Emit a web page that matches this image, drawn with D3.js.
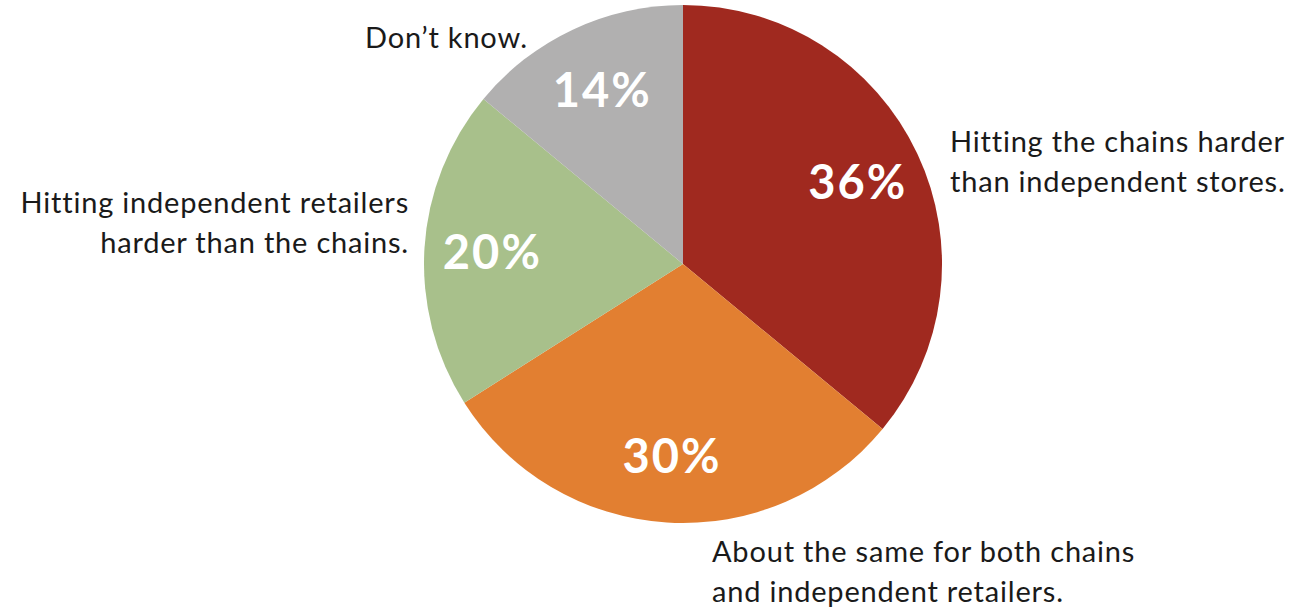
<!DOCTYPE html>
<html>
<head>
<meta charset="utf-8">
<script src="https://cdn.jsdelivr.net/npm/d3@7"></script>
<style>
  html, body { margin: 0; padding: 0; background: #ffffff; }
  svg { display: block; }
  .pct { font-family: Lato, "Open Sans", sans-serif; font-weight: 700; fill: #ffffff; letter-spacing: 2px; }
  .lbl { font-family: Lato, "Open Sans", sans-serif; font-weight: 400; fill: #1a1a1a; letter-spacing: 0.8px; }
</style>
</head>
<body>
<svg id="chart" width="1297" height="613"></svg>
<script>
// Survey responses, in drawing order (clockwise from 12 o'clock)
const categories = [
  "Hitting the chains harder than independent stores.",
  "About the same for both chains and independent retailers.",
  "Hitting independent retailers harder than the chains.",
  "Don’t know."
];
const values = [36, 30, 20, 14];
const colors = ["#a0291f", "#e27f31", "#a8c08b", "#b1b0b0"];

// Callout text, split into lines, with anchor side
const labelLines = [
  ["Hitting the chains harder", "than independent stores."],
  ["About the same for both chains", "and independent retailers."],
  ["Hitting independent retailers", "harder than the chains."],
  ["Don’t know."]
];
const labelAnchors = ["start", "start", "end", "end"];
const labelPos = [[950, 152], [712, 562], [409, 213], [528, 48]];

const width = 1297, height = 613;
const cx = 683, cy = 264, radius = 259;

const svg = d3.select("#chart");
const g = svg.append("g").attr("transform", `translate(${cx},${cy})`);

const pie = d3.pie().sort(null).value(d => d);
const arcs = pie(values);

const arc = d3.arc().innerRadius(0).outerRadius(radius);
const labelArc = d3.arc().innerRadius(192).outerRadius(192);

g.selectAll("path.slice")
  .data(arcs)
  .join("path")
  .attr("class", "slice")
  .attr("d", arc)
  .attr("fill", (d, i) => colors[i]);

g.selectAll("text.pct")
  .data(arcs)
  .join("text")
  .attr("class", "pct")
  .attr("transform", d => {
    const [x, y] = labelArc.centroid(d);
    return `translate(${x + 1},${y})`;
  })
  .attr("text-anchor", "middle")
  .attr("dy", "0.36em")
  .style("font-size", "47px")
  .text(d => d.value + "%");

labelLines.forEach((lines, i) => {
  const t = svg.append("text")
    .attr("class", "lbl")
    .attr("x", labelPos[i][0])
    .attr("y", labelPos[i][1])
    .attr("text-anchor", labelAnchors[i])
    .style("font-size", "29px");
  lines.forEach((line, j) => {
    t.append("tspan")
      .attr("x", labelPos[i][0])
      .attr("dy", j === 0 ? 0 : 40)
      .text(line);
  });
});
</script>
</body>
</html>
